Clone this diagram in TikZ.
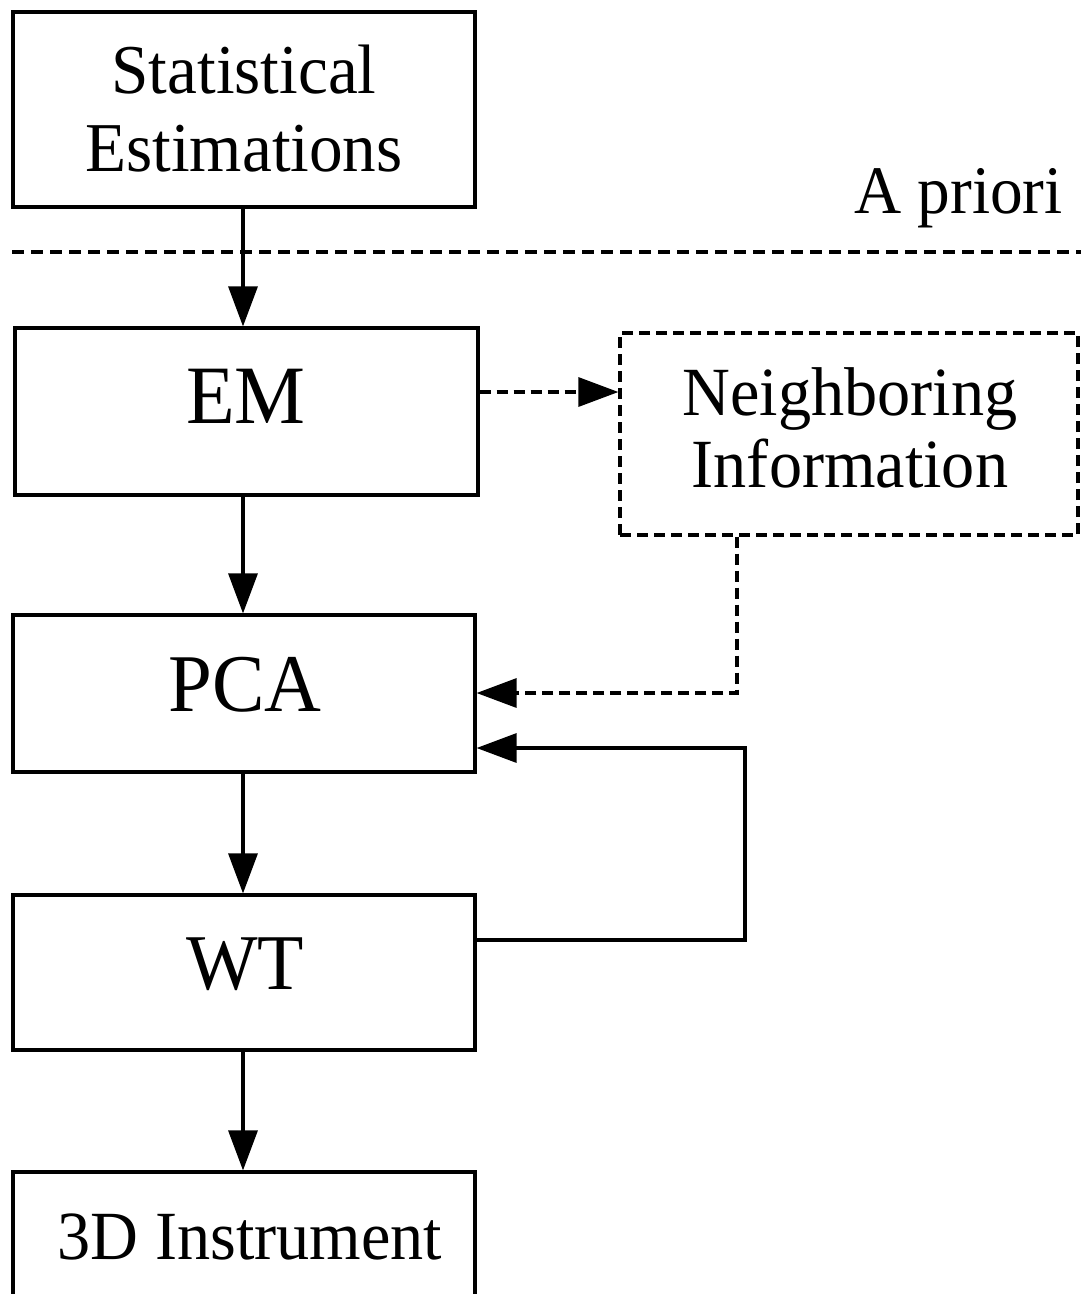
\documentclass[tikz,border=0pt]{standalone}
\usepackage{fontspec}
\setmainfont{Liberation Serif}
\usepackage{graphicx}
\usetikzlibrary{arrows.meta}
\newcommand{\sqtxt}[2]{\fontsize{#1}{#1}\selectfont\scalebox{0.96}[1]{#2}}
\begin{document}
\begin{tikzpicture}[x=1pt,y=-1pt,
  box/.style={draw, line width=3.2pt, inner sep=0pt, rectangle},
  dbox/.style={box, dash pattern=on 11pt off 6pt},
  lbl/.style={inner sep=0pt, anchor=base},
  flow/.style={line width=3.2pt, -{Triangle[length=40pt,width=29pt]}},
  dflow/.style={flow, dash pattern=on 11pt off 6pt},
  sepline/.style={line width=3.2pt, dash pattern=on 12pt off 7pt}]
\useasboundingbox (0,0) rectangle (1081,1294);
\clip (0,0) rectangle (1081,1294);
\fill[white] (0,0) rectangle (1081,1294);

% boxes
\node[box, minimum width=462pt, minimum height=195pt] (stat) at (244,109.5) {};
\node[box, minimum width=463pt, minimum height=167pt] (em) at (246.5,411.5) {};
\node[dbox, minimum width=458pt, minimum height=202pt] (nb) at (849,434) {};
\node[box, minimum width=462pt, minimum height=157pt] (pca) at (244,693.5) {};
\node[box, minimum width=462pt, minimum height=155pt] (wt) at (244,972.5) {};
\node[box, minimum width=462pt, minimum height=140pt] (inst) at (244,1242) {};

% texts
\node[lbl] (statA) at (244,93) {\sqtxt{70}{Statistical}};
\node[lbl] (statB) at (244,171) {\sqtxt{70}{Estimations}};
\node[lbl, anchor=base east] (apri) at (1063,213) {\sqtxt{68}{A priori}};
\node[lbl] (emT) at (246,423) {\sqtxt{83}{EM}};
\node[lbl] (nbA) at (850,415) {\sqtxt{69}{Neighboring}};
\node[lbl] (nbB) at (850,487) {\sqtxt{69}{Information}};
\node[lbl] (pcaT) at (245,711) {\sqtxt{82}{PCA}};
\node[lbl] (wtT) at (245,989) {\sqtxt{79}{WT}};
\node[lbl] (instT) at (250,1259) {\sqtxt{69}{3D Instrument}};

% separator
\coordinate (dl) at (12,252);
\coordinate (dr) at (1081,252);
\draw[sepline] (dl) -- (dr);

% helper coordinates
\coordinate (ax) at (243,0);
\coordinate (y1) at (0,392);
\coordinate (nbx) at (737,693);
\coordinate (fb1) at (745,940);
\coordinate (fb2) at (745,748);

% connectors
\draw[flow] (ax |- stat.south) -- (ax |- em.north);
\draw[flow] (ax |- em.south) -- (ax |- pca.north);
\draw[flow] (ax |- pca.south) -- (ax |- wt.north);
\draw[flow] (ax |- wt.south) -- (ax |- inst.north);
\draw[dflow] (em.east |- y1) -- (nb.west |- y1);
\draw[dflow] (nbx |- nb.south) -- (nbx) -- (pca.east |- nbx);
\draw[flow] (wt.east |- fb1) -- (fb1) -- (fb2) -- (pca.east |- fb2);
\end{tikzpicture}
\end{document}
